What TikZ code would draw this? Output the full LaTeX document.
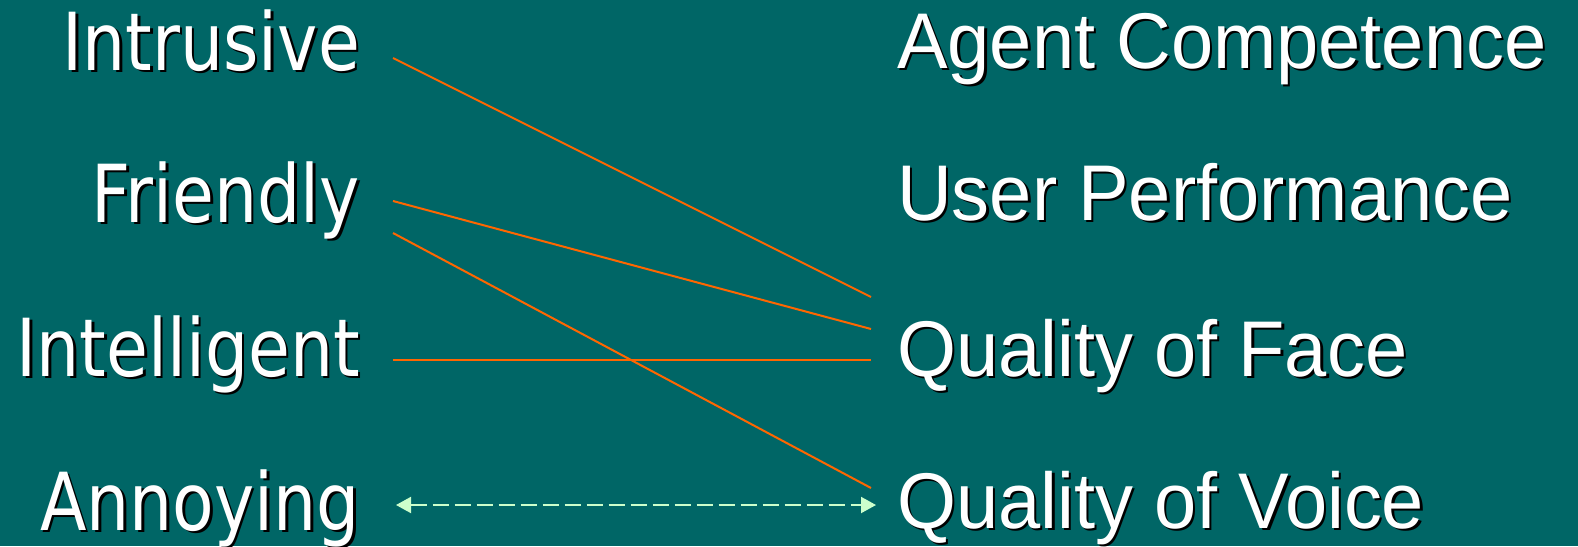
\documentclass[tikz,border=0pt]{standalone}
\usepackage{fontspec}
\usetikzlibrary{arrows.meta,calc}
\newfontfamily\leftfont[FakeStretch=0.85]{DejaVu Sans}
\newfontfamily\rightfont[FakeStretch=0.96]{Liberation Sans}
\definecolor{slidebg}{HTML}{006666}
\definecolor{linkorange}{HTML}{FF6600}
\definecolor{mintgreen}{HTML}{CCFFCC}
% white text with a small black drop shadow
\newcommand{\shtext}[1]{\makebox[0pt][l]{\hspace{2.5pt}\raisebox{-2.5pt}{\textcolor{black}{#1}}}#1}
\begin{document}
\begin{tikzpicture}[x=1pt,y=-1pt,
  leftlabel/.style={anchor=base east,inner sep=0pt,text=white,font=\leftfont\fontsize{80}{80}\selectfont},
  rightlabel/.style={anchor=base west,inner sep=0pt,text=white,font=\rightfont\fontsize{79}{79}\selectfont},
  link/.style={draw=linkorange,line width=2pt},
  duallink/.style={draw=mintgreen,line width=2pt,dash pattern=on 16pt off 6pt,
    {Triangle[length=15pt,width=16pt]}-{Triangle[length=15pt,width=16pt]}}]
\fill[slidebg] (0,0) rectangle (1578,546);
\useasboundingbox (0,0) rectangle (1578,546);

% attributes on the left
\node[leftlabel] (intrusive)   at (360,70)  {\shtext{Intrusive}};
\node[leftlabel] (friendly)    at (360,222) {\shtext{Friendly}};
\node[leftlabel] (intelligent) at (360,376) {\shtext{Intelligent}};
\node[leftlabel] (annoying)    at (360,530) {\shtext{Annoying}};

% factors on the right
\node[rightlabel] (competence)  at (897,68)  {\shtext{Agent Competence}};
\node[rightlabel] (performance) at (897,220) {\shtext{User Performance}};
\node[rightlabel] (face)        at (897,376) {\shtext{Quality of Face}};
\node[rightlabel] (voice)       at (897,528) {\shtext{Quality of Voice}};

% connectors
\draw[link] ([shift={(33,-12)}]intrusive.base east) -- ([shift={(-26,-79)}]face.base west);
\draw[link] ([shift={(33,-21)}]friendly.base east) -- ([shift={(-26,-47)}]face.base west);
\draw[link] ([shift={(33,11)}]friendly.base east) -- ([shift={(-26,-40)}]voice.base west);
\draw[link] ([shift={(33,-16)}]intelligent.base east) -- ([shift={(-26,-16)}]face.base west);
\draw[duallink] ([shift={(36,-25)}]annoying.base east) -- ([shift={(-21,-23)}]voice.base west);
\end{tikzpicture}
\end{document}
